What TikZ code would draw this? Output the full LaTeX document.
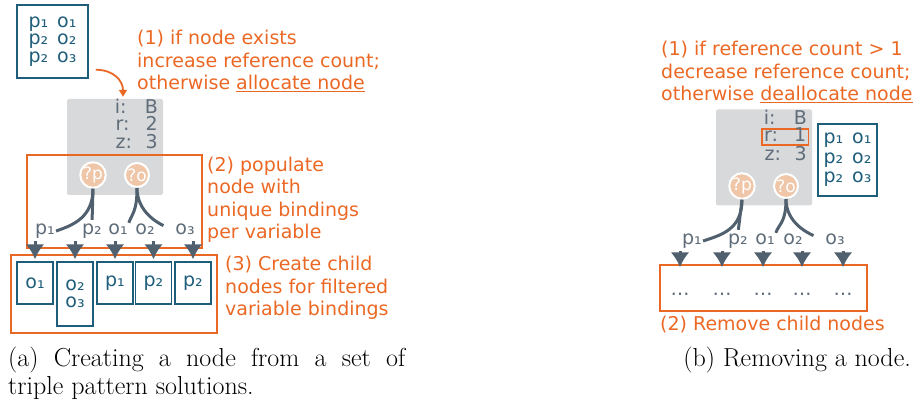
\documentclass[tikz,border=0pt]{standalone}
\usepackage{fontspec}
\usepackage{tikz}
\usetikzlibrary{arrows.meta}

\newfontfamily\dejavu{DejaVu Sans}

\definecolor{stepOrange}{RGB}{235,104,36}
\definecolor{bindBlue}{RGB}{31,94,122}
\definecolor{tableGray}{RGB}{216,217,219}
\definecolor{slateText}{RGB}{95,108,121}
\definecolor{slateLine}{RGB}{80,96,111}
\definecolor{varPeach}{RGB}{239,198,168}

% one "key: value" row of a table node
\newcommand{\kv}[2]{\makebox[16pt][l]{#1}\hspace{14pt}#2}

\begin{document}
\begin{tikzpicture}[x=1pt, y=-1pt,
    every node/.style={inner sep=0pt},
    note/.style={font=\dejavu\fontsize{19}{22.5}\selectfont, text=stepOrange, align=left, anchor=west},
    bindbox/.style={draw=bindBlue, line width=1.5pt, text=bindBlue, align=center,
                    font=\dejavu\fontsize{19}{17.5}\selectfont},
    tablebox/.style={fill=tableGray, rounded corners=2pt, minimum width=96pt, minimum height=96pt},
    entry/.style={font=\dejavu\fontsize{19}{19}\selectfont, text=slateText, anchor=east,
                  text height=12pt, text depth=0pt},
    var/.style={circle, fill=varPeach, draw=white, line width=2pt, minimum size=24pt,
                text=white, font=\dejavu\fontsize{17}{17}\selectfont},
    binding/.style={font=\dejavu\fontsize{19}{19}\selectfont, text=slateText, anchor=base,
                    text height=10pt, text depth=4pt, inner sep=1pt},
    branch/.style={line width=3pt, slateLine},
    spawn/.style={-{Latex[length=15pt, width=19pt]}, line width=3pt, slateLine},
    frame/.style={draw=stepOrange, line width=1.5pt},
    caption/.style={font=\fontsize{26}{28}\selectfont}
]
\useasboundingbox (0,0) rectangle (917,403);

% ===================== (a) CREATING A NODE =====================
\begin{scope}
    % solutions and the new node
    \node[bindbox, minimum width=71pt, minimum height=73pt] (solsA) at (52.5,41.5)
        {p₁\hspace{9pt}o₁\\p₂\hspace{9pt}o₂\\p₂\hspace{9pt}o₃};
    \node[tablebox] (tabA) at (115,147) {};
    \node[entry] (iA) at (158,108) {\kv{i:}{B}};
    \node[entry] (rA) at (158,125) {\kv{r:}{2}};
    \node[entry] (zA) at (158,143) {\kv{z:}{3}};

    \draw[-{Triangle[length=7pt, width=8pt]}, line width=1.8pt, stepOrange]
        ([shift={(7pt,9pt)}]solsA.south east) .. controls +(18,0) and +(0,-16) .. ([shift={(8pt,2pt)}]tabA.north);

    % frames
    \node[frame, minimum width=175pt, minimum height=93pt] (popA) at (114.5,201.5) {};
    \node[frame, minimum width=206pt, minimum height=78pt] (kidsA) at (114,294) {};

    % child nodes
    \node[bindbox, minimum width=36pt, minimum height=42pt] (cA1) at (35,283) {o₁};
    \node[bindbox, minimum width=36pt, minimum height=64pt] (cA2) at (75,294) {o₂\\o₃};
    \node[bindbox, minimum width=36pt, minimum height=42pt] (cA3) at (115,283) {p₁};
    \node[bindbox, minimum width=36pt, minimum height=42pt] (cA4) at (153.5,283) {p₂};
    \node[bindbox, minimum width=36pt, minimum height=42pt] (cA5) at (193,283) {p₂};

    % bindings
    \node[binding] (bp1A) at (45,234) {p₁};
    \node[binding] (bp2A) at (92,234) {p₂};
    \node[binding] (bo1A) at (118,234) {o₁};
    \node[binding] (bo2A) at (145,234) {o₂};
    \node[binding] (bo3A) at (185,234) {o₃};

    \node[var] (pA) at (93,175) {?p};
    \node[var] (oA) at (137,175) {?o};

    \draw[branch] (pA.south) .. controls +(0,28) and +(18,-6) .. (bp1A.east);
    \draw[branch, shorten >=3pt] (pA.south) -- (bp2A.north);
    \draw[branch] (oA.south) .. controls +(0,24) and +(3,-9) .. (bo1A.north east);
    \draw[branch, shorten >=12pt] (oA.south) .. controls +(0,24) and +(-16,-8) .. (bo3A.west);

    \draw[spawn, shorten <=2pt, shorten >=2pt] (bp1A.south -| cA1) -- (cA1.north);
    \draw[spawn, shorten <=2pt, shorten >=2pt] (bp2A.south -| cA2) -- (cA2.north);
    \draw[spawn, shorten <=2pt, shorten >=2pt] (bo1A.south -| cA3) -- (cA3.north);
    \draw[spawn, shorten <=2pt, shorten >=2pt] (bo2A.south -| cA4) -- (cA4.north);
    \draw[spawn, shorten <=2pt, shorten >=2pt] (bo3A.south -| cA5) -- (cA5.north);

    % steps
    \node[note] (stepA1) at (137,61) {(1) if node exists\\increase reference count;\\otherwise \underline{allocate node}};
    \node[note] (stepA2) at (207,200) {(2) populate\\node with\\unique bindings\\per variable};
    \node[note] (stepA3) at (225,288) {(3) Create child\\nodes for filtered\\variable bindings};

    \node[caption, anchor=north west, text width=397pt, align=justify] (capA) at (8,347)
        {(a) Creating a node from a set of\linebreak triple pattern solutions.};
\end{scope}

% ===================== (b) REMOVING A NODE =====================
\begin{scope}
    \node[tablebox] (tabB) at (764,157.5) {};
    \node[entry] (iB) at (807,119) {\kv{i:}{B}};
    \node[entry, draw=stepOrange, line width=1.5pt, inner xsep=2pt, text height=13pt, text depth=3pt] (rB) at (809,137) {\kv{r:}{1}};
    \node[entry] (zB) at (807,155) {\kv{z:}{3}};

    \node[bindbox, minimum width=59pt, minimum height=72pt,
          font=\dejavu\fontsize{19}{19.5}\selectfont] (solsB) at (847.5,160)
        {p₁\hspace{9pt}o₁\\p₂\hspace{9pt}o₂\\p₂\hspace{9pt}o₃};

    % removed children
    \node[frame, minimum width=207pt, minimum height=46pt] (kidsB) at (763.5,288) {};
    \node[binding, text=slateText] (dB1) at (680,295) {…};
    \node[binding, text=slateText] (dB2) at (722,295) {…};
    \node[binding, text=slateText] (dB3) at (763,295) {…};
    \node[binding, text=slateText] (dB4) at (802,295) {…};
    \node[binding, text=slateText] (dB5) at (843,295) {…};

    % bindings
    \node[binding] (bp1B) at (692,244) {p₁};
    \node[binding] (bp2B) at (738,244) {p₂};
    \node[binding] (bo1B) at (765,244) {o₁};
    \node[binding] (bo2B) at (793,244) {o₂};
    \node[binding] (bo3B) at (835,244) {o₃};

    \node[var] (pB) at (742,186) {?p};
    \node[var] (oB) at (786,186) {?o};

    \draw[branch] (pB.south) .. controls +(0,30) and +(18,-6) .. (bp1B.east);
    \draw[branch, shorten >=3pt] (pB.south) -- (bp2B.north);
    \draw[branch] (oB.south) .. controls +(0,24) and +(3,-9) .. (bo1B.north east);
    \draw[branch, shorten >=12pt] (oB.south) .. controls +(0,24) and +(-16,-8) .. (bo3B.west);

    \draw[spawn, shorten <=2pt, shorten >=-3pt] (bp1B.south -| dB1) -- (dB1 |- kidsB.north);
    \draw[spawn, shorten <=2pt, shorten >=-3pt] (bp2B.south -| dB2) -- (dB2 |- kidsB.north);
    \draw[spawn, shorten <=2pt, shorten >=-3pt] (bo1B.south -| dB3) -- (dB3 |- kidsB.north);
    \draw[spawn, shorten <=2pt, shorten >=-3pt] (bo2B.south -| dB4) -- (dB4 |- kidsB.north);
    \draw[spawn, shorten <=2pt, shorten >=-3pt] (bo3B.south -| dB5) -- (dB5 |- kidsB.north);

    % steps
    \node[note] (stepB1) at (661,72) {(1) if reference count > 1\\decrease reference count;\\otherwise \underline{deallocate node}};
    \node[note] (stepB2) at (660,325) {(2) Remove child nodes};

    \node[caption, anchor=north east] (capB) at (911,347) {(b) Removing a node.};
\end{scope}

\end{tikzpicture}
\end{document}
